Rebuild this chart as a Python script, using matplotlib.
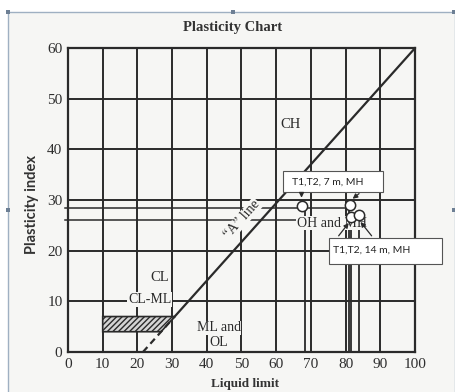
import matplotlib.pyplot as plt
from matplotlib.patches import Polygon, Rectangle

# puntos de ensayo (LL, IP)
ll_pts = [67.3, 81.2, 81.5, 83.9]
pi_pts = [28.8, 29.0, 26.6, 27.0]
# lineas guia hacia los ejes
h_guide_pi = [28.4, 26.0]
h_guide_end = [81.0, 84.0]
v_guide_ll = [68.3, 81.0, 81.6, 84.0]
v_guide_top = [28.8, 29.0, 26.6, 27.0]

x_ticks = [0, 10, 20, 30, 40, 50, 60, 70, 80, 90, 100]
y_ticks = [0, 10, 20, 30, 40, 50, 60]

# linea A tal como aparece en la imagen escaneada
a_slope = 0.765
a_zero = 21.6

ink = "#2a2a2a"
paper = "#f6f6f4"
serif = ["Liberation Serif", "DejaVu Serif"]
sans = ["Lato", "DejaVu Sans"]


def a_line(ll):
    return a_slope * (ll - a_zero)


def a_inv(pi):
    return a_zero + pi / a_slope


fig = plt.figure(figsize=(4.56, 3.92), dpi=100)
fig.patch.set_facecolor("white")
# marco de la imagen escaneada
fig.patches.append(Rectangle((8 / 456, -0.01), 447 / 456, 1 - 12 / 392 + 0.01,
                             transform=fig.transFigure, facecolor=paper,
                             edgecolor="#9fb0c2", lw=1.0, zorder=-3))
for hx, hy in [(8, 12), (233, 12), (454, 12), (8, 210), (454, 210)]:
    fig.patches.append(Rectangle(((hx - 2) / 456, 1 - (hy + 2) / 392), 4 / 456, 4 / 392,
                                 transform=fig.transFigure, facecolor="#6d7f94",
                                 edgecolor="none", zorder=-2))

ax = fig.add_axes([68 / 456, 1 - 352 / 392, 347 / 456, 304 / 392])
ax.set_facecolor(paper)
ax.set_xlim(0, 100)
ax.set_ylim(0, 60)

for x in x_ticks:
    ax.axvline(x, color=ink, lw=1.4, zorder=1)
for y in y_ticks:
    ax.axhline(y, color=ink, lw=1.4, zorder=1)
for s in ax.spines.values():
    s.set_color(ink)
    s.set_linewidth(1.6)

ax.set_xticks(x_ticks)
ax.set_yticks(y_ticks)
ax.tick_params(length=0, labelsize=11, labelcolor="#2e2e2e", pad=4)
for lab in ax.get_xticklabels() + ax.get_yticklabels():
    lab.set_family(serif)

# linea A
ax.plot([a_zero, a_inv(7)], [0, 7], color=ink, lw=1.6, ls=(0, (3, 2)), zorder=3)
ax.plot([a_inv(7), 100], [7, a_line(100)], color=ink, lw=1.6, zorder=3)

# zona CL-ML
zone = Polygon([(10, 4), (a_inv(4), 4), (a_inv(7), 7), (10, 7)],
               closed=True, facecolor="#d4d4d4", edgecolor=ink, hatch="//////",
               lw=1.2, zorder=2)
ax.add_patch(zone)

# lineas guia
for p, e in zip(h_guide_pi, h_guide_end):
    ax.plot([-1, e], [p, p], color=ink, lw=1.1, clip_on=False, zorder=2)
for l, t in zip(v_guide_ll, v_guide_top):
    ax.plot([l, l], [0, t], color=ink, lw=1.3, zorder=2)

ax.scatter(ll_pts, pi_pts, s=55, facecolor="white", edgecolor=ink, lw=1.1, zorder=5)

# etiquetas de zonas
ax.text(64, 45, "CH", family=serif, fontsize=10.5, color=ink, ha="center", va="center")
ax.text(26.5, 14.8, "CL", family=serif, fontsize=10.5, color=ink, ha="center", va="center")
ax.text(23.5, 10.4, "CL-ML", family=serif, fontsize=10, color=ink, ha="center", va="center",
        bbox=dict(facecolor=paper, edgecolor="none", pad=0.5), zorder=4)
ax.text(43.5, 4.8, "ML and", family=serif, fontsize=10, color=ink, ha="center", va="center",
        bbox=dict(facecolor=paper, edgecolor="none", pad=0.3), zorder=4)
ax.text(43.5, 1.9, "OL", family=serif, fontsize=10, color=ink, ha="center", va="center",
        bbox=dict(facecolor=paper, edgecolor="none", pad=0.3), zorder=4)
ax.text(76, 25.4, "OH and MH", family=serif, fontsize=10, color=ink, ha="center", va="center",
        bbox=dict(facecolor=paper, edgecolor="none", pad=0.3), zorder=4)
ax.text(50.2, 26.2, "\u201cA\u201d line", family=serif, fontsize=10, color=ink, ha="center",
        va="center", rotation=48, rotation_mode="anchor",
        bbox=dict(facecolor=paper, edgecolor="none", pad=0.3), zorder=4)

# cuadros de anotacion
ax.add_patch(Rectangle((62.0, 31.6), 28.8, 4.1, facecolor="white", edgecolor="#555555",
                       lw=0.8, zorder=6))
ax.text(64.6, 33.6, "T1,T2, 7 m, MH", family=sans, fontsize=7.5, color="#222222",
        ha="left", va="center", zorder=7)
ax.add_patch(Rectangle((75.2, 17.4), 32.6, 5.1, facecolor="white", edgecolor="#555555",
                       lw=0.8, zorder=6, clip_on=False))
ax.text(76.4, 20.0, "T1,T2, 14 m, MH", family=sans, fontsize=7.5, color="#222222",
        ha="left", va="center", zorder=7, clip_on=False)
arrow = dict(arrowstyle="-|>", color=ink, lw=0.9, mutation_scale=7)
ax.annotate("", xy=(67.3, 29.9), xytext=(67.3, 31.6), arrowprops=arrow, zorder=6)
ax.annotate("", xy=(81.4, 29.9), xytext=(84.5, 31.6), arrowprops=arrow, zorder=6)
ax.annotate("", xy=(81.4, 25.9), xytext=(77.5, 22.5), arrowprops=arrow, zorder=6)
ax.annotate("", xy=(83.8, 26.1), xytext=(88.0, 22.5), arrowprops=arrow, zorder=6)

fig.text(233 / 456, 1 - 27 / 392, "Plasticity Chart", family=serif, fontsize=10.5,
         fontweight="bold", color="#333333", ha="center", va="center")
fig.text(32 / 456, 1 - 205 / 392, "Plasticity index", family=sans, fontsize=10.5,
         fontweight="bold", color="#333333", ha="center", va="center", rotation=90)
fig.text(245 / 456, 1 - 384 / 392, "Liquid limit", family=serif, fontsize=9.5,
         fontweight="bold", color="#333333", ha="center", va="center")

plt.savefig("out.png", dpi=100, facecolor=fig.get_facecolor())
plt.close()
